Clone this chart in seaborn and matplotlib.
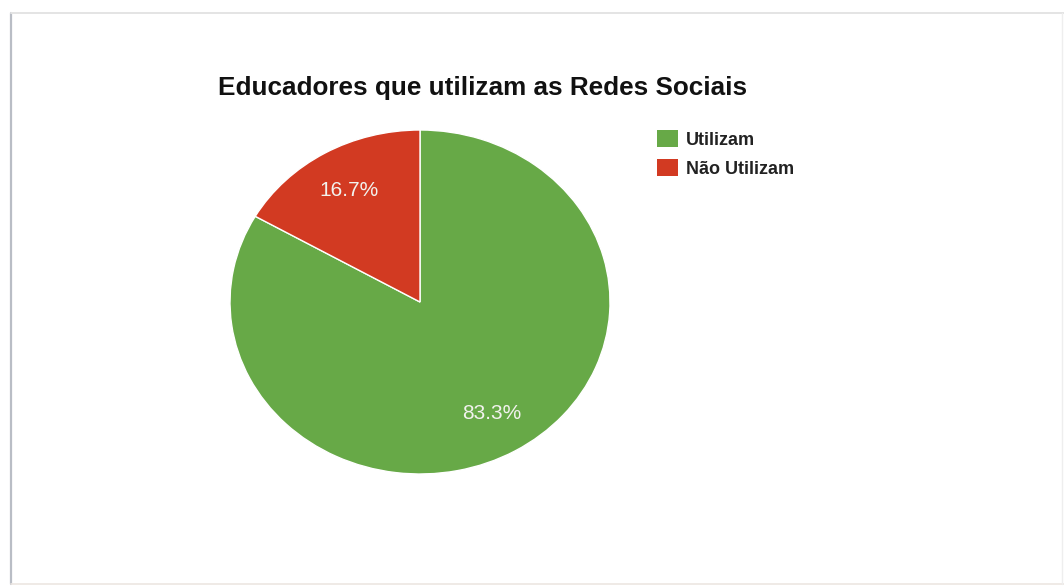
import matplotlib
matplotlib.use("Agg")
import matplotlib.pyplot as plt
from matplotlib.lines import Line2D
from matplotlib.patches import Patch
import numpy as np
import seaborn as sns

categories = ["Utilizam", "Não Utilizam"]
shares = [83.3, 16.7]
pct_labels = ["83.3%", "16.7%"]
title = "Educadores que utilizam as Redes Sociais"

sns.set_theme(style="white")
plt.rcParams["font.family"] = ["Liberation Sans", "DejaVu Sans"]

colors = ["#67a947", "#d23a22"]

W, H = 1064, 586
fig = plt.figure(figsize=(W / 100, H / 100), dpi=100)
fig.patch.set_facecolor("white")

# panel border (left and top edges visible)
fig.add_artist(Line2D([11 / W, 11 / W], [2 / H, 573 / H], color="#b9bdc5", lw=1.6))
fig.add_artist(Line2D([11 / W, 1.0], [573 / H, 573 / H], color="#e4e4e4", lw=1.4))
fig.add_artist(Line2D([11 / W, 1.0], [2 / H, 2 / H], color="#ece6e2", lw=1.2))
fig.add_artist(Line2D([1062 / W, 1062 / W], [2 / H, 573 / H], color="#eeeeee", lw=1.0))

# pie axes: stretched horizontally (ellipse)
x0, x1, y_top, y_bot = 230, 610, 130, 474
ax = fig.add_axes([x0 / W, (H - y_bot) / H, (x1 - x0) / W, (y_bot - y_top) / H])
wedges, _ = ax.pie(
    shares,
    colors=colors,
    startangle=90,
    counterclock=False,
    radius=1.0,
    wedgeprops=dict(edgecolor="white", linewidth=1.0),
)
ax.set_aspect("auto")
ax.set_xlim(-1, 1)
ax.set_ylim(-1, 1)
ax.axis("off")

# percentage labels placed at 75% of the radius along each slice bisector
for w, lab in zip(wedges, pct_labels):
    mid = np.deg2rad((w.theta1 + w.theta2) / 2)
    ax.text(0.75 * np.cos(mid), 0.75 * np.sin(mid), lab,
            ha="center", va="center", color="#f2f2ee", fontsize=15)

fig.text(483 / W, 1 - 88 / H, title, ha="center", va="center",
         fontsize=18.8, fontweight="bold", color="#111111")

handles = [Patch(facecolor=c, edgecolor="none") for c in colors]
fig.legend(handles, categories, loc="upper left",
           bbox_to_anchor=(657 / W, 1 - 130 / H), frameon=False,
           prop=dict(weight="bold", size=13), labelcolor="#222222",
           handlelength=1.15, handleheight=1.05, handletextpad=0.45,
           labelspacing=0.6, borderaxespad=0, borderpad=0)

fig.savefig("out.png", dpi=100, facecolor="white")
